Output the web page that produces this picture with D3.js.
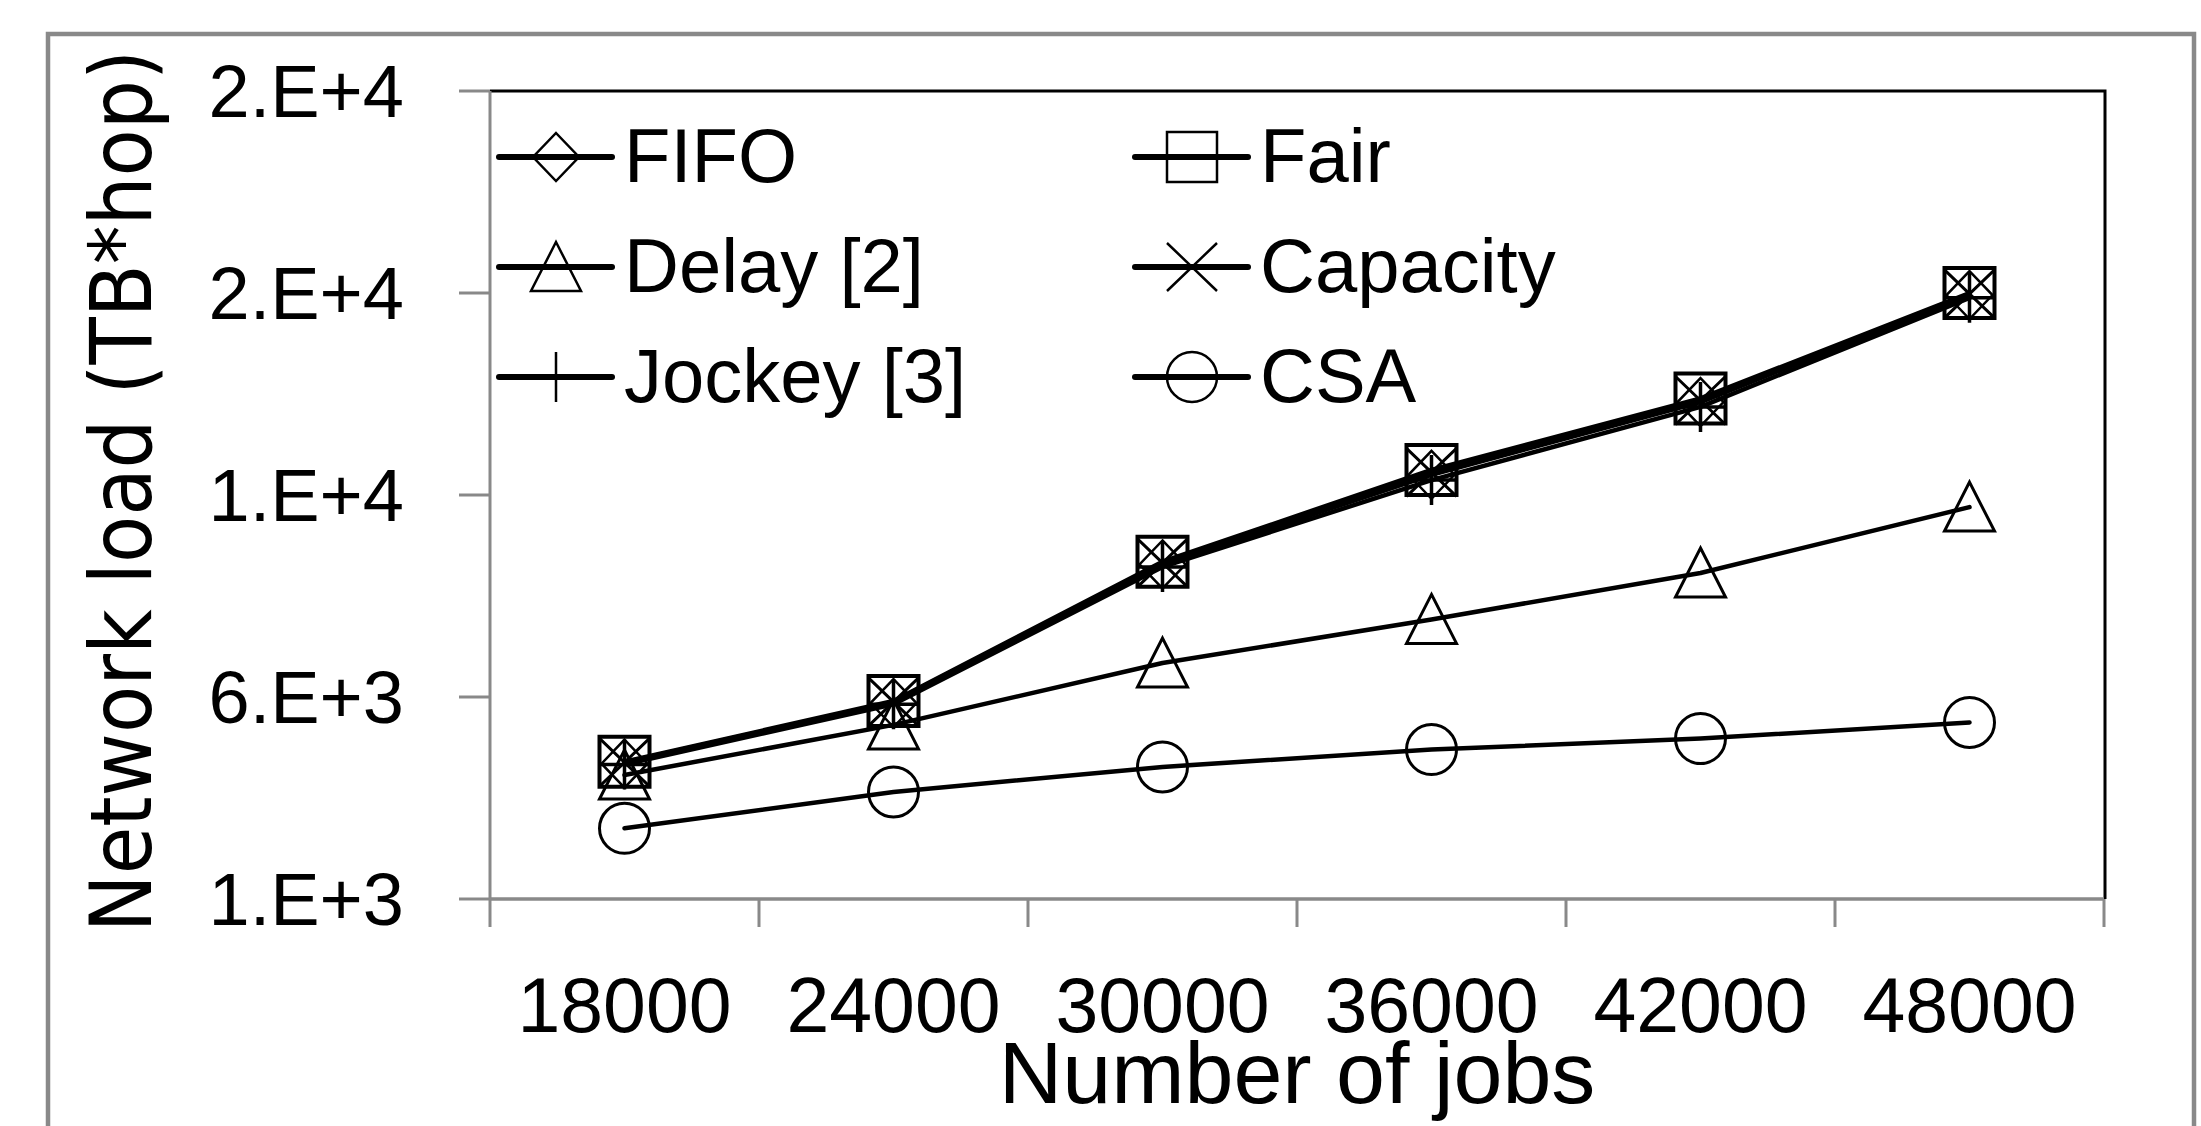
<!DOCTYPE html>
<html>
<head>
<meta charset="utf-8">
<script src="https://cdn.jsdelivr.net/npm/d3@7"></script>
<style>
  body { margin: 0; background: #fff; }
  svg { display: block; }
</style>
</head>
<body>
<script>
// data
const categories = ["18000", "24000", "30000", "36000", "42000", "48000"];
const fifo     = [4350, 5850, 9280, 11500, 13300, 15950];
const fair     = [4400, 5900, 9350, 11620, 13390, 16000];
const delay    = [4070, 5310, 6840, 7920, 9070, 10700];
const capacity = [4380, 5880, 9320, 11560, 13340, 15980];
const jockey   = [4330, 5820, 9220, 11370, 13180, 15880];
const csa      = [2750, 3650, 4270, 4700, 4970, 5370];

const seriesNames = ["FIFO", "Fair", "Delay [2]", "Capacity", "Jockey [3]", "CSA"];
const seriesMarkers = ["diamond", "square", "triangle", "x", "plus", "circle"];
const seriesValues = [fifo, fair, delay, capacity, jockey, csa];

const yTickValues = [1000, 6000, 11000, 16000, 21000];
const yTickLabels = ["1.E+3", "6.E+3", "1.E+4", "2.E+4", "2.E+4"];

const W = 2201, H = 1126;
const plotL = 490, plotR = 2104, plotT = 91, plotB = 899;
const grey = "#898989";

const svg = d3.select("body").append("svg")
  .attr("width", W).attr("height", H);

svg.append("rect").attr("width", W).attr("height", H).attr("fill", "#fff");

// outer frame
svg.append("rect")
  .attr("x", 48).attr("y", 34).attr("width", 2146).attr("height", 1200)
  .attr("fill", "none").attr("stroke", grey).attr("stroke-width", 4.5);

const x = d3.scaleBand().domain(categories).range([plotL, plotR]).padding(0);
const y = d3.scaleLinear().domain([1000, 21000]).range([plotB, plotT]);

// plot border: top and right black
svg.append("path")
  .attr("d", `M${plotL},${plotT}H${plotR + 1}V${plotB}`)
  .attr("fill", "none").attr("stroke", "#000").attr("stroke-width", 3);

// y axis
svg.append("line")
  .attr("x1", plotL).attr("x2", plotL).attr("y1", plotT).attr("y2", plotB)
  .attr("stroke", grey).attr("stroke-width", 3);

svg.selectAll(".ytick").data(yTickValues).enter().append("line")
  .attr("x1", plotL - 31).attr("x2", plotL)
  .attr("y1", d => y(d)).attr("y2", d => y(d))
  .attr("stroke", grey).attr("stroke-width", 3);

svg.selectAll(".ylab").data(yTickValues).enter().append("text")
  .attr("x", 404).attr("y", d => y(d) + 26)
  .attr("text-anchor", "end")
  .style("font-family", "'Liberation Sans', Arial, sans-serif")
  .style("font-size", "74px")
  .text((d, i) => yTickLabels[i]);

// x axis
svg.append("line")
  .attr("x1", plotL).attr("x2", plotR).attr("y1", plotB).attr("y2", plotB)
  .attr("stroke", grey).attr("stroke-width", 3.5);

const bounds = categories.map(c => x(c)).concat([plotR]);
svg.selectAll(".xtick").data(bounds).enter().append("line")
  .attr("x1", d => d).attr("x2", d => d)
  .attr("y1", plotB).attr("y2", plotB + 28)
  .attr("stroke", grey).attr("stroke-width", 3);

svg.selectAll(".xlab").data(categories).enter().append("text")
  .attr("x", d => x(d) + x.bandwidth() / 2).attr("y", 1032)
  .attr("text-anchor", "middle")
  .style("font-family", "'Liberation Sans', Arial, sans-serif")
  .style("font-size", "77px")
  .text(d => d);

svg.append("text")
  .attr("x", (plotL + plotR) / 2).attr("y", 1103)
  .attr("text-anchor", "middle")
  .style("font-family", "'Liberation Sans', Arial, sans-serif")
  .style("font-size", "88px")
  .text("Number of jobs");

svg.append("text")
  .attr("transform", "translate(151,491) rotate(-90)")
  .attr("text-anchor", "middle")
  .style("font-family", "'DejaVu Sans Condensed', 'DejaVu Sans', sans-serif")
  .style("font-stretch", "condensed")
  .style("font-size", "86px")
  .text("Network load (TB*hop)");

// marker shapes, centred on 0,0
function markerPath(type) {
  switch (type) {
    case "diamond": return "M0,-24L23,0L0,24L-23,0Z";
    case "square": return "M-25,-25H25V25H-25Z";
    case "triangle": return "M0,-25L25,24H-25Z";
    case "x": return "M-25,-24L25,24M-25,24L25,-24";
    case "plus": return "M0,-25V25M-25,0H25";
    case "circle": return "M-25,0A25,25 0 1,0 25,0A25,25 0 1,0 -25,0Z";
  }
}
const markerStroke = { diamond: 2.5, square: 4, triangle: 3, x: 3, plus: 3.5, circle: 3 };

const line = d3.line()
  .x((d, i) => x(categories[i]) + x.bandwidth() / 2)
  .y(d => y(d));

seriesValues.forEach((vals, s) => {
  svg.append("path")
    .attr("d", line(vals))
    .attr("fill", "none").attr("stroke", "#000")
    .attr("stroke-width", 4.5).attr("stroke-linejoin", "round")
    .attr("stroke-linecap", "round");

  svg.selectAll(".m" + s).data(vals).enter().append("path")
    .attr("transform", (d, i) => `translate(${x(categories[i]) + x.bandwidth() / 2},${y(d)})`)
    .attr("d", markerPath(seriesMarkers[s]))
    .attr("fill", "none").attr("stroke", "#000")
    .attr("stroke-width", markerStroke[seriesMarkers[s]]);
});

// legend, two columns
const legX = [499, 1135], legY = [157, 267, 377];
seriesNames.forEach((name, i) => {
  const lx = legX[i % 2], ly = legY[Math.floor(i / 2)];
  const g = svg.append("g");
  g.append("line")
    .attr("x1", lx).attr("x2", lx + 113).attr("y1", ly).attr("y2", ly)
    .attr("stroke", "#000").attr("stroke-width", 6).attr("stroke-linecap", "round");
  g.append("path")
    .attr("transform", `translate(${lx + 57},${ly})`)
    .attr("d", markerPath(seriesMarkers[i]))
    .attr("fill", "none").attr("stroke", "#000").attr("stroke-width", 2.5);
  g.append("text")
    .attr("x", lx + 125).attr("y", ly + 25)
    .style("font-family", "'Liberation Sans', Arial, sans-serif")
    .style("font-size", "76px")
    .text(name);
});
</script>
</body>
</html>
